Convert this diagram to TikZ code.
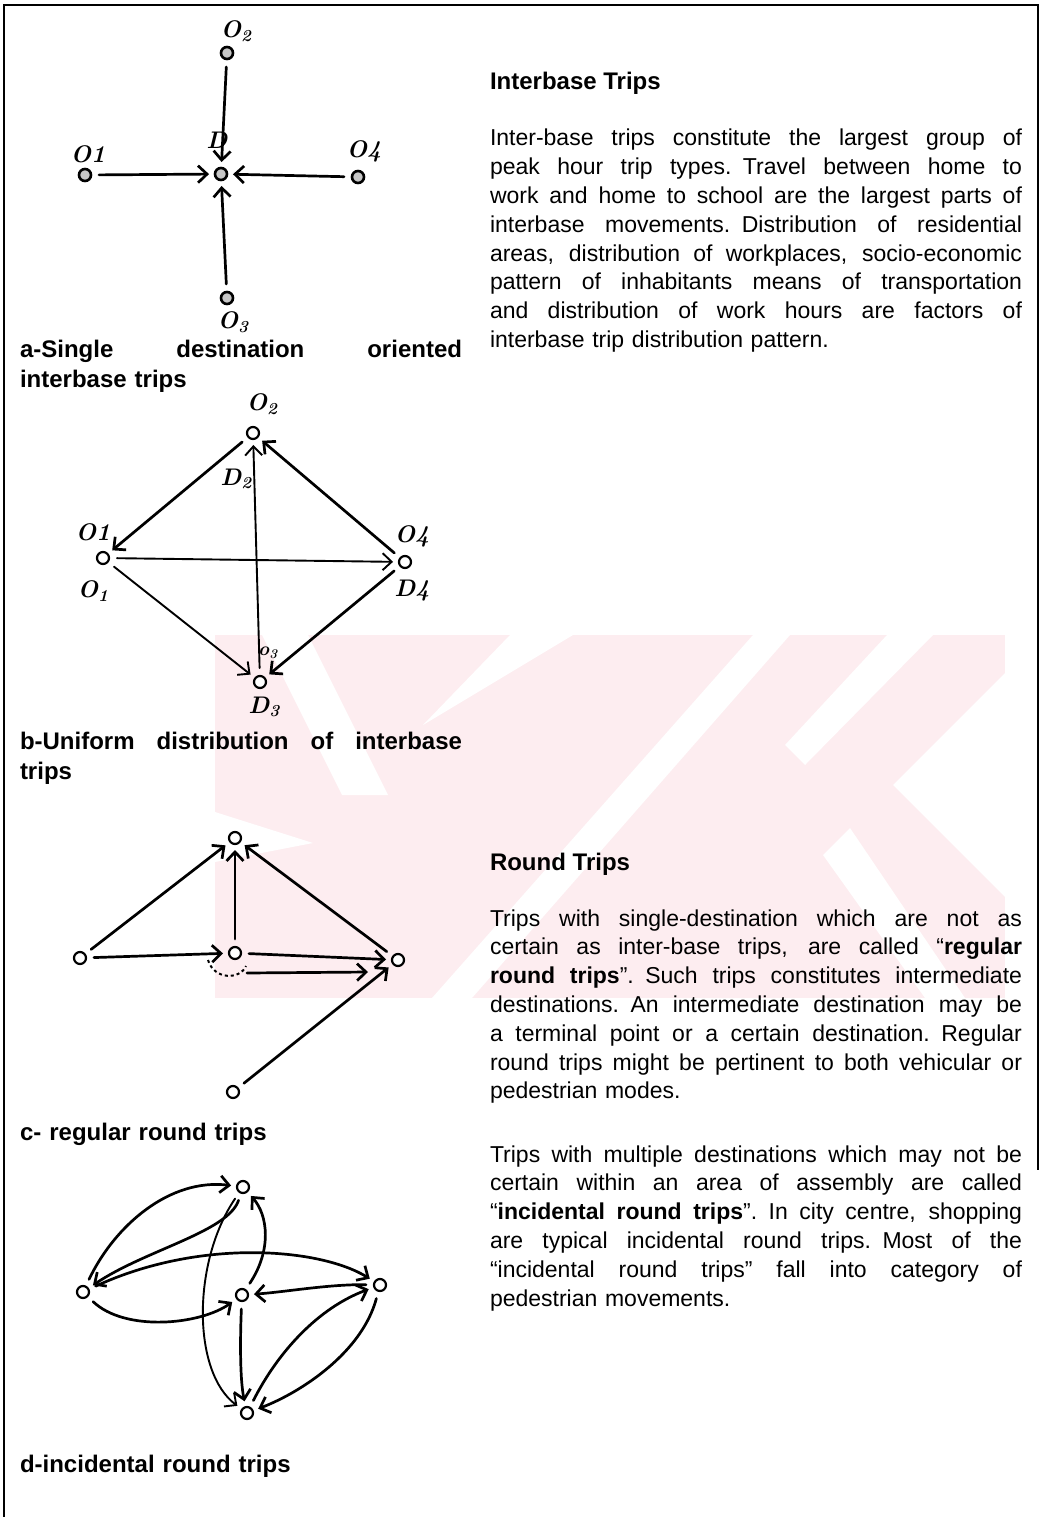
\documentclass[tikz,border=0pt]{standalone}
\usepackage{fontspec}
\newfontfamily\arial{Liberation Sans}
\usetikzlibrary{arrows.meta}
% a fully justified line: every interword space stretches equally
\newcommand\jline[1]{\leavevmode\hbox to 532pt{\spaceskip=0.28em plus 1fil\relax #1}}
\newcommand\capline[1]{\leavevmode\hbox to 442pt{\spaceskip=0.28em plus 1fil\relax #1}}
\begin{document}
\begin{tikzpicture}[x=1pt,y=-1pt,
  every node/.style={inner sep=0pt,outer sep=0pt},
  fatdot/.style={circle,draw,line width=2.6pt,fill=gray!45,minimum size=12pt},
  ring/.style={circle,draw,line width=2.2pt,fill=white,minimum size=12pt},
  hand/.style={font=\itshape\bfseries\fontsize{24}{24}\selectfont},
  trip/.style={line width=2.7pt,line cap=round,-{Straight Barb[length=9pt,width=17pt]},shorten >=6pt,shorten <=8pt},
  thintrip/.style={trip,line width=1.9pt},
  para/.style={anchor=base west,text width=532pt,align=left,font=\arial\fontsize{23}{28.8}\selectfont},
  captext/.style={anchor=base west,text width=442pt,align=left,font=\arial\bfseries\fontsize{24}{30}\selectfont},
  head/.style={anchor=base west,font=\arial\bfseries\fontsize{24}{28.8}\selectfont},
  wm/.style={fill={rgb,255:red,253;green,237;blue,240}}
]
\useasboundingbox (0,0) rectangle (1042,1517);

% faint background emblem
\begin{scope}
  \clip (215,635) rectangle (1005,998);
  \fill[wm] (215,635) rectangle (1005,998);
  \fill[white] (262,635) -- (308,635) -- (388,795) -- (342,795) -- cycle;
  \fill[white] (215,812) -- (313,843) -- (215,862) -- cycle;
  \fill[white] (510,635) -- (573,635) -- (423,725) -- cycle;
  \fill[white] (753,635) -- (790,635) -- (472,998) -- (432,998) -- cycle;
  \fill[white] (887,635) -- (933,635) -- (805,765) -- (785,745) -- cycle;
  \fill[white] (893,785) -- (1043,635) -- (1043,935) -- cycle;
  \fill[white] (823,855) -- (850,828) -- (965,998) -- (925,998) -- cycle;
\end{scope}

% frame
\draw[line width=2.4pt] (4,1517) -- (4,5) -- (1038,5) -- (1038,1170);

% ---------- a: single destination ----------
\node[fatdot] (a2) at (227,53) {};
\node[fatdot] (aD) at (221,174) {};
\node[fatdot] (a1) at (85,175) {};
\node[fatdot] (a4) at (358,177) {};
\node[fatdot] (a3) at (227,298) {};
\node[hand] (la2) at (236,31) {O\textsubscript{2}};
\node[hand] (laD) at (217,140) {D};
\node[hand] (la1) at (88,154) {O1};
\node[hand] (la4) at (364,151) {O4};
\node[hand] (la3) at (233,322) {O\textsubscript{3}};
\draw[trip] (a2) -- (aD);
\draw[trip] (a1) -- (aD);
\draw[trip] (a4) -- (aD);
\draw[trip] (a3) -- (aD);

% ---------- b: uniform distribution ----------
\node[ring] (b2) at (253,433) {};
\node[ring] (b1) at (103,558) {};
\node[ring] (b4) at (405,562) {};
\node[ring] (b3) at (260,682) {};
\node[hand] (lb2) at (262,404) {O\textsubscript{2}};
\node[hand] (lbD2) at (236,479) {D\textsubscript{2}};
\node[hand] (lb1a) at (93,532) {O1};
\node[hand] (lb1b) at (93,591) {O\textsubscript{1}};
\node[hand] (lb4) at (412,536) {O4};
\node[hand] (lbD4) at (412,591) {D4};
\node[hand,font=\itshape\bfseries\fontsize{19}{19}\selectfont] (lb3) at (268,653) {o\textsubscript{3}};
\node[hand] (lbD3) at (264,707) {D\textsubscript{3}};
\draw[trip] (b2) -- (b1);
\draw[trip] (b4) -- (b2);
\draw[thintrip] (b3) -- (b2);
\draw[thintrip] (b1) -- (b4);
\draw[thintrip] (b1) -- (b3);
\draw[trip] (b4) -- (b3);

% ---------- c: regular round trips ----------
\node[ring] (cT) at (235,838) {};
\node[ring] (cL) at (80,958) {};
\node[ring] (cM) at (235,953) {};
\node[ring] (cR) at (398,960) {};
\node[ring] (cB) at (233,1092) {};
\draw[trip] (cL) -- (cT);
\draw[trip] (cM) -- (cT);
\draw[trip] (cR) -- (cT);
\draw[trip] (cL) -- (cM);
\draw[trip] (cM) -- (cR);
\draw[trip] (cB) -- (cR);
\coordinate (cLoopA) at (208,960);
\coordinate (cLoopB) at (246,966);
\coordinate (cOutA) at (247,973);
\coordinate (cOutB) at (368,972);
\draw[line width=2pt,dashed] (cLoopA) .. controls (214,980) and (240,980) .. (cLoopB);
\draw[trip,shorten >=0pt,shorten <=0pt] (cOutA) -- (cOutB);

% ---------- d: incidental round trips ----------
\node[ring] (dT) at (243,1187) {};
\node[ring] (dL) at (83,1292) {};
\node[ring] (dM) at (242,1295) {};
\node[ring] (dR) at (380,1285) {};
\node[ring] (dB) at (247,1413) {};
\draw[trip] (dL) .. controls (115,1225) and (170,1178) .. (dT);
\draw[trip] (dT) .. controls (228,1232) and (145,1250) .. (dL);
\draw[trip] (dL) .. controls (200,1238) and (320,1248) .. (dR);
\draw[trip] (dR) .. controls (330,1284) and (285,1292) .. (dM);
\draw[trip] (dL) .. controls (125,1332) and (200,1325) .. (dM);
\draw[trip] (dM) .. controls (272,1250) and (268,1215) .. (dT);
\draw[thintrip] (dT) .. controls (192,1262) and (192,1372) .. (dB);
\draw[trip] (dM) .. controls (240,1340) and (240,1380) .. (dB);
\draw[trip] (dR) .. controls (362,1352) and (302,1392) .. (dB);
\draw[trip] (dB) .. controls (278,1352) and (318,1308) .. (dR);

% ---------- captions ----------
\node[captext] (capa) at (20,357) {\capline{a-Single destination oriented}\\interbase trips};
\node[captext] (capb) at (20,749) {\capline{b-Uniform distribution of interbase}\\trips};
\node[captext] (capc) at (20,1140) {c- regular round trips};
\node[captext] (capd) at (20,1472) {d-incidental round trips};

% ---------- text ----------
\node[head] (h1) at (490,90) {Interbase Trips};
\node[para] (p1) at (490,146) {%
\jline{Inter-base trips constitute the largest group of}\\
\jline{peak hour trip types. Travel between home to}\\
\jline{work and home to school are the largest parts of}\\
\jline{interbase movements. Distribution of residential}\\
\jline{areas, distribution of workplaces, socio-economic}\\
\jline{pattern of inhabitants means of transportation}\\
\jline{and distribution of work hours are factors of}\\
interbase trip distribution pattern.};

\node[head] (h2) at (490,870) {Round Trips};
\node[para] (p2) at (490,926) {%
\jline{Trips with single-destination which are not as}\\
\jline{certain as inter-base trips, are called “\textbf{regular}}\\
\jline{\textbf{round trips}”. Such trips constitutes intermediate}\\
\jline{destinations. An intermediate destination may be}\\
\jline{a terminal point or a certain destination. Regular}\\
\jline{round trips might be pertinent to both vehicular or}\\
pedestrian modes.};

\node[para] (p3) at (490,1162) {%
\jline{Trips with multiple destinations which may not be}\\
\jline{certain within an area of assembly are called}\\
\jline{“\textbf{incidental round trips}”. In city centre, shopping}\\
\jline{are typical incidental round trips. Most of the}\\
\jline{“incidental round trips” fall into category of}\\
pedestrian movements.};
\end{tikzpicture}
\end{document}
